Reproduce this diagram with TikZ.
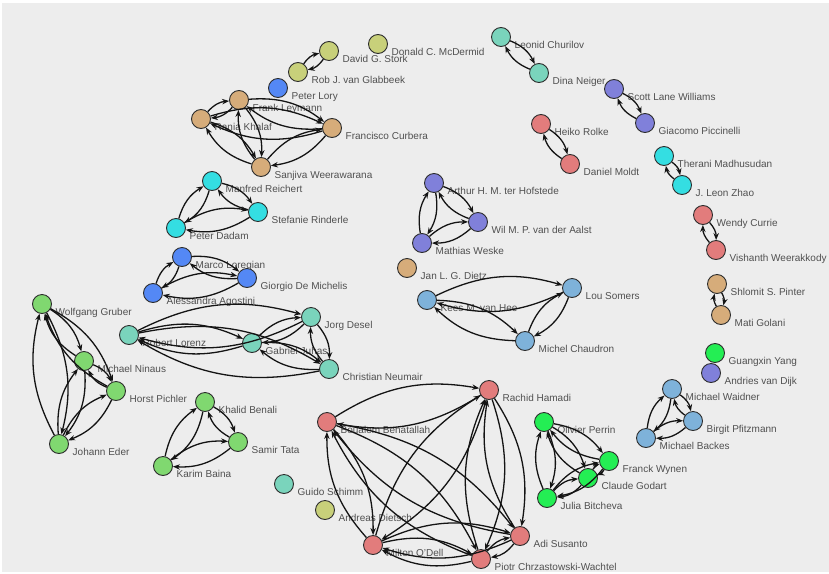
\documentclass[tikz,border=0pt]{standalone}
\usepackage{fontspec}
\setmainfont{Liberation Sans}
\usetikzlibrary{arrows.meta}

% node fill colours, one per collaboration cluster
\definecolor{canvas}{RGB}{237,237,237}
\definecolor{ctan}{RGB}{214,172,122}
\definecolor{colive}{RGB}{200,208,122}
\definecolor{cblue}{RGB}{84,136,245}
\definecolor{ccyan}{RGB}{52,222,226}
\definecolor{cteal}{RGB}{122,212,188}
\definecolor{cpurple}{RGB}{128,128,218}
\definecolor{csalmon}{RGB}{226,124,124}
\definecolor{clblue}{RGB}{126,178,218}
\definecolor{cgreen}{RGB}{128,216,112}
\definecolor{cbgreen}{RGB}{36,238,84}
\definecolor{ctext}{RGB}{80,80,80}

\tikzset{
  person/.style={circle, draw={rgb,255:red,45;green,45;blue,45}, line width=0.9pt,
                 minimum size=19pt, inner sep=0pt},
  namelbl/.style={anchor=base west, inner sep=0pt, text=ctext,
                  font=\fontsize{10}{12}\selectfont},
  link/.style={line width=1.3pt, draw={rgb,255:red,20;green,20;blue,20},
               -{Stealth[length=7pt,width=5.4pt]}},
}

% \person{id}{x}{y}{colour}{name}
\newcommand\person[5]{%
  \node[person, fill=#4] (#1) at (#2,#3) {};
  \node[namelbl] (#1-name) at (#2+13.5,#3+11.5) {#5};
}
% two opposite directed links between a pair of authors
\newcommand\copair[2]{%
  \draw[link] (#1) to[bend left=21] (#2);
  \draw[link] (#2) to[bend left=21] (#1);
}

\begin{document}
\begin{tikzpicture}[x=1pt, y=-1pt]
\useasboundingbox (0,0) rectangle (829,573);
\fill[white] (0,0) rectangle (829,573);
\fill[canvas] (2,3) rectangle (829,572);

% authors
\person{stork}{329}{51}{colive}{David G. Stork}
\person{mcd}{378}{44}{colive}{Donald C. McDermid}
\person{glab}{298}{72}{colive}{Rob J. van Glabbeek}
\person{lory}{278}{88}{cblue}{Peter Lory}
\person{leym}{239}{100}{ctan}{Frank Leymann}
\person{khal}{201}{119}{ctan}{Rania Khalaf}
\person{curb}{332}{128}{ctan}{Francisco Curbera}
\person{weer}{261}{167}{ctan}{Sanjiva Weerawarana}
\person{chur}{501}{37}{cteal}{Leonid Churilov}
\person{neig}{539}{73}{cteal}{Dina Neiger}
\person{will}{614}{89}{cpurple}{Scott Lane Williams}
\person{picc}{645}{123}{cpurple}{Giacomo Piccinelli}
\person{rolk}{541}{124}{csalmon}{Heiko Rolke}
\person{mold}{570}{164}{csalmon}{Daniel Moldt}
\person{madh}{664}{156}{ccyan}{Therani Madhusudan}
\person{zhao}{682}{185}{ccyan}{J. Leon Zhao}
\person{reic}{212}{181}{ccyan}{Manfred Reichert}
\person{rind}{258}{212}{ccyan}{Stefanie Rinderle}
\person{dada}{176}{228}{ccyan}{Peter Dadam}
\person{lore}{182}{257}{cblue}{Marco Loregian}
\person{mich}{247}{278}{cblue}{Giorgio De Michelis}
\person{agos}{153}{293}{cblue}{Alessandra Agostini}
\person{hofs}{434}{183}{cpurple}{Arthur H. M. ter Hofstede}
\person{aals}{478}{222}{cpurple}{Wil M. P. van der Aalst}
\person{wesk}{422}{243}{cpurple}{Mathias Weske}
\person{diet}{407}{268}{ctan}{Jan L. G. Dietz}
\person{hee}{427}{300}{clblue}{Kees M. van Hee}
\person{some}{572}{288}{clblue}{Lou Somers}
\person{chau}{525}{341}{clblue}{Michel Chaudron}
\person{curr}{703}{215}{csalmon}{Wendy Currie}
\person{vish}{716}{250}{csalmon}{Vishanth Weerakkody}
\person{pint}{717}{284}{ctan}{Shlomit S. Pinter}
\person{gola}{721}{315}{ctan}{Mati Golani}
\person{yang}{715}{353}{cbgreen}{Guangxin Yang}
\person{dijk}{711}{373}{cpurple}{Andries van Dijk}
\person{gru}{42}{304}{cgreen}{Wolfgang Gruber}
\person{nin}{84}{361}{cgreen}{Michael Ninaus}
\person{pic}{116}{391}{cgreen}{Horst Pichler}
\person{eder}{59}{444}{cgreen}{Johann Eder}
\person{lor}{129}{335}{cteal}{Robert Lorenz}
\person{des}{311}{317}{cteal}{Jorg Desel}
\person{juh}{252}{343}{cteal}{Gabriel Juhas}
\person{neu}{329}{369}{cteal}{Christian Neumair}
\person{ben}{205}{402}{cgreen}{Khalid Benali}
\person{tata}{238}{442}{cgreen}{Samir Tata}
\person{bain}{163}{466}{cgreen}{Karim Baina}
\person{bena}{327}{422}{csalmon}{Boualem Benatallah}
\person{hama}{489}{390}{csalmon}{Rachid Hamadi}
\person{schi}{284}{484}{cteal}{Guido Schimm}
\person{dtsch}{325}{510}{colive}{Andreas Dietsch}
\person{odel}{373}{545}{csalmon}{Milton O'Dell}
\person{chrz}{481}{559}{csalmon}{Piotr Chrzastowski-Wachtel}
\person{susa}{520}{536}{csalmon}{Adi Susanto}
\person{perr}{544}{422}{cbgreen}{Olivier Perrin}
\person{wyne}{609}{461}{cbgreen}{Franck Wynen}
\person{goda}{588}{478}{cbgreen}{Claude Godart}
\person{bitc}{547}{498}{cbgreen}{Julia Bitcheva}
\person{waid}{672}{389}{clblue}{Michael Waidner}
\person{pfit}{693}{421}{clblue}{Birgit Pfitzmann}
\person{back}{646}{438}{clblue}{Michael Backes}

% co-authorship links
\copair{stork}{glab}
\copair{chur}{neig}
\copair{will}{picc}
\copair{rolk}{mold}
\copair{madh}{zhao}
\copair{curr}{vish}
\copair{pint}{gola}

\copair{leym}{khal} \copair{leym}{curb} \copair{leym}{weer}
\copair{khal}{curb} \copair{khal}{weer} \copair{curb}{weer}

\copair{reic}{rind} \copair{reic}{dada} \copair{rind}{dada}
\copair{lore}{mich} \copair{lore}{agos} \copair{mich}{agos}
\copair{hofs}{aals} \copair{hofs}{wesk} \copair{aals}{wesk}
\copair{hee}{some} \copair{hee}{chau} \copair{some}{chau}
\copair{waid}{pfit} \copair{waid}{back} \copair{pfit}{back}
\copair{ben}{tata} \copair{ben}{bain} \copair{tata}{bain}

\copair{gru}{nin} \copair{gru}{pic} \copair{gru}{eder}
\copair{nin}{pic} \copair{nin}{eder} \copair{pic}{eder}

\copair{lor}{des} \copair{lor}{juh} \copair{lor}{neu}
\copair{juh}{des} \copair{juh}{neu} \copair{des}{neu}

\copair{perr}{wyne} \copair{perr}{goda} \copair{perr}{bitc}
\copair{wyne}{goda} \copair{wyne}{bitc} \copair{goda}{bitc}

\copair{bena}{hama} \copair{bena}{odel} \copair{bena}{chrz} \copair{bena}{susa}
\copair{hama}{odel} \copair{hama}{chrz} \copair{hama}{susa}
\copair{odel}{chrz} \copair{odel}{susa} \copair{chrz}{susa}
\end{tikzpicture}
\end{document}
